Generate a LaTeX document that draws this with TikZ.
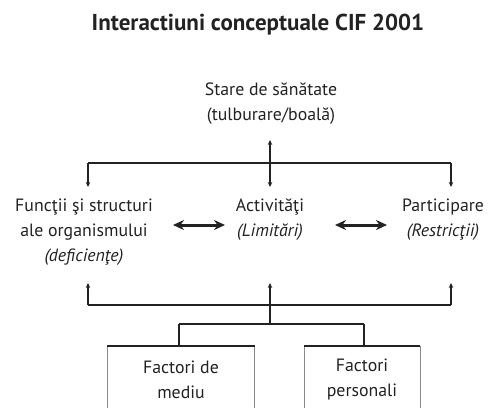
\documentclass[tikz,border=0pt]{standalone}
\usepackage{fontspec}
\setmainfont{PT Sans}
\usetikzlibrary{arrows.meta}
\definecolor{ink}{HTML}{222222}
\definecolor{frame}{HTML}{8A8A8A}
\begin{document}
\begin{tikzpicture}[x=1pt,y=-1pt,
  txt/.style={text=ink,font=\fontsize{17.8}{25}\selectfont,align=center,inner sep=0pt},
  wire/.style={draw=ink,line width=1.7pt},
  tip/.style={wire,-{Stealth[length=5pt,width=4.5pt]}},
  both/.style={draw=ink,line width=3pt,{Stealth[length=11pt,width=10pt]}-{Stealth[length=11pt,width=10pt]}},
  factor/.style={txt,draw=frame,line width=0.8pt,minimum height=66pt,anchor=north}]
\useasboundingbox (0,0) rectangle (490,407);
\clip (0,0) rectangle (490,407);

% heading
\node[text=ink,font=\fontsize{23}{26}\selectfont\bfseries,inner sep=0pt] (title) at (258,25) {Interactiuni conceptuale CIF 2001};

% health condition
\node[txt] (stare) at (271,104) {Stare de sănătate\\(tulburare/boală)};

% three components
\node[txt] (functii) at (84,232) {Funcţii şi structuri\\ale organismului\\\textit{(deficienţe)}};
\node[txt] (activ) at (270,220) {Activităţi\\\textit{(Limitări)}};
\node[txt] (partic) at (443,220) {Participare\\\textit{(Restricţii)}};

% contextual factors
\node[factor,minimum width=147pt] (mediu) at (181,346) {Factori de\\mediu};
\node[factor,minimum width=116pt] (pers) at (362,346) {Factori\\personali};
\draw[draw=ink,line width=1.4pt] (mediu.north west) -- (mediu.north east);
\draw[draw=ink,line width=1.4pt] (pers.north west) -- (pers.north east);

% upper distribution
\coordinate (tj) at (270,163);
\coordinate (tl) at (88,163);
\coordinate (tr) at (451,163);
\coordinate (sIn) at (270,140);
\coordinate (fIn) at (88,187);
\coordinate (aIn) at (270,187);
\coordinate (pIn) at (451,187);
\draw[wire] (tl) -- (tr);
\draw[tip] (tj) -- (sIn);
\draw[tip] (tl) -- (fIn);
\draw[tip] (tj) -- (aIn);
\draw[tip] (tr) -- (pIn);

% lateral interactions
\coordinate (d1a) at (173,225);
\coordinate (d1b) at (225,225);
\coordinate (d2a) at (335,225);
\coordinate (d2b) at (387,225);
\draw[both] (d1a) -- (d1b);
\draw[both] (d2a) -- (d2b);

% lower collection
\coordinate (bj) at (270,305);
\coordinate (bl) at (88,305);
\coordinate (br) at (451,305);
\coordinate (fOut) at (88,283);
\coordinate (aOut) at (270,283);
\coordinate (pOut) at (451,283);
\draw[wire] (bl) -- (br);
\draw[tip] (bl) -- (fOut);
\draw[tip] (bj) -- (aOut);
\draw[tip] (br) -- (pOut);
\coordinate (fj) at (270,324);
\coordinate (fl) at (179,324);
\coordinate (fr) at (364,324);
\draw[wire] (bj) -- (fj);
\draw[wire] (fl) -- (fr);
\draw[wire] (fl) -- (fl |- mediu.north);
\draw[wire] (fr) -- (fr |- pers.north);
\end{tikzpicture}
\end{document}
